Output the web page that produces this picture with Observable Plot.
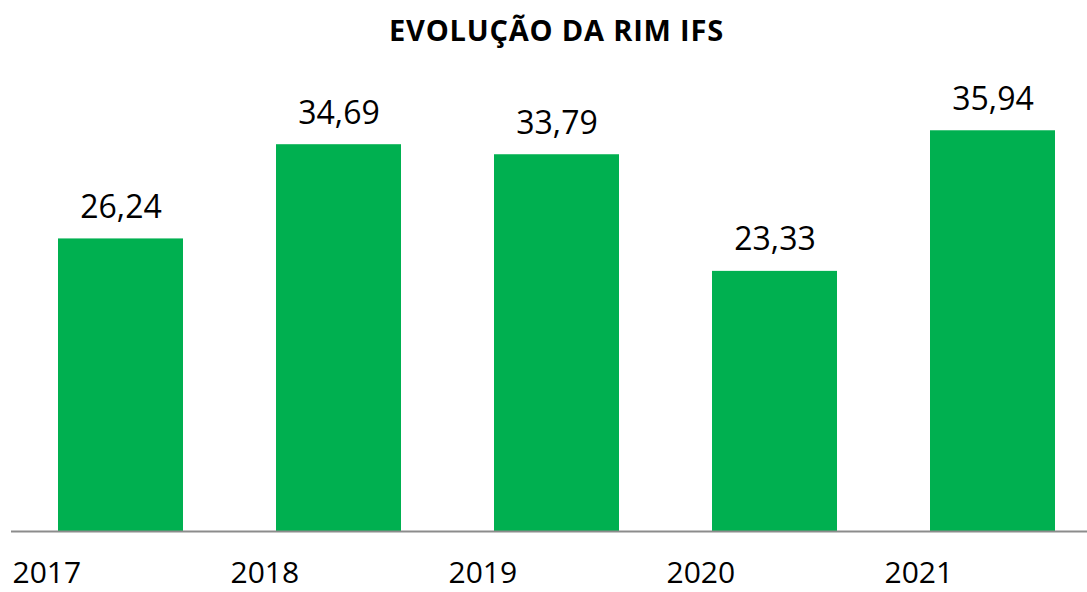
<!DOCTYPE html>
<html>
<head>
<meta charset="utf-8">
<script src="https://cdn.jsdelivr.net/npm/d3@7"></script>
<script src="https://cdn.jsdelivr.net/npm/@observablehq/plot@0.6"></script>
<style>
  html, body { margin: 0; padding: 0; background: #fff; }
  #chart svg { display: block; }
</style>
</head>
<body>
<div id="chart"></div>
<script>
const title = "EVOLUÇÃO DA RIM IFS";
const years = ["2017", "2018", "2019", "2020", "2021"];
const values = [26.24, 34.69, 33.79, 23.33, 35.94];
const valueLabels = ["26,24", "34,69", "33,79", "23,33", "35,94"];

const data = years.map((year, i) => ({ year, value: values[i], label: valueLabels[i] }));

const chart = Plot.plot({
  width: 1087,
  height: 592,
  marginTop: 85,
  marginBottom: 61,
  marginLeft: 11,
  marginRight: 0,
  style: { fontFamily: "'Open Sans', sans-serif", background: "#fff", color: "#000" },
  x: { domain: years, range: [11.5, 1101.5], paddingInner: 0.4266, paddingOuter: 0.2133, label: null },
  y: { domain: [0, 40], axis: null },
  marks: [
    Plot.barY(data, { x: "year", y: "value", fill: "#00B050" }),
    Plot.ruleY([0], { stroke: "#8c8c8c", strokeWidth: 2 }),
    Plot.text(data, { x: "year", y: "value", text: "label", dy: -21, lineAnchor: "bottom", fontSize: 32, fill: "#000" }),
    Plot.axisX({ tickSize: 0, tickPadding: 30, textAnchor: "start", dx: -108.5, fontSize: 30, label: null, fill: "#000" }),
    Plot.text([title], { frameAnchor: "top", dy: -45, dx: 7, lineAnchor: "bottom", fontSize: 29, fontWeight: "bold", fill: "#000" })
  ]
});
d3.select(chart).selectAll("text")
  .filter(function () { return this.textContent === title; })
  .style("letter-spacing", "0.8px");
document.getElementById("chart").append(chart);
</script>
</body>
</html>
